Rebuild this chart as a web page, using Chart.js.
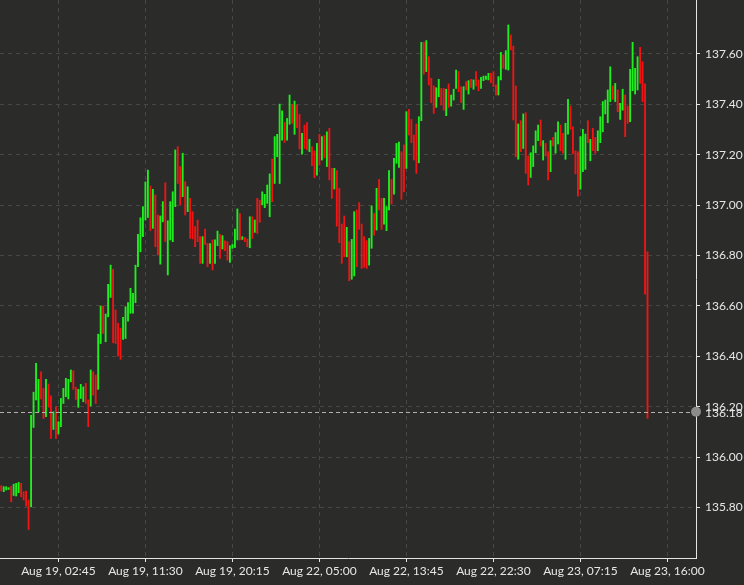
<!DOCTYPE html>
<html>
<head>
<meta charset="utf-8">
<script src="https://cdn.jsdelivr.net/npm/chart.js@4.4.1/dist/chart.umd.min.js"></script>
<style>
  html, body { margin: 0; padding: 0; background: #2b2c2a; }
  #wrap { width: 744px; height: 585px; }
</style>
</head>
<body>
<div id="wrap"><canvas id="chart"></canvas></div>
<script>
// 15-minute candles (high / low / direction)
const highs = [
  135.887,135.883,135.883,135.879,135.885,135.893,135.896,135.900,135.896,135.863,
  135.865,135.830,136.166,136.258,136.372,136.309,136.339,136.273,136.309,136.290,
  136.243,136.180,136.200,136.141,136.233,136.273,136.313,136.309,136.346,136.343,
  136.277,136.269,136.289,136.279,136.293,136.227,136.346,136.339,136.326,136.488,
  136.600,136.600,136.568,136.686,136.762,136.745,136.584,136.531,136.511,136.555,
  136.597,136.613,136.670,136.650,136.762,136.884,136.950,136.994,137.092,137.139,
  137.076,137.063,137.040,136.961,136.957,137.014,137.089,136.938,137.014,137.053,
  137.219,137.232,137.153,137.206,137.093,137.073,137.027,136.974,136.915,136.941,
  136.875,136.875,136.905,136.848,136.848,136.862,136.862,136.897,136.884,136.879,
  136.858,136.855,136.839,136.844,136.905,136.985,136.967,136.875,136.872,136.866,
  136.954,136.954,136.941,137.027,137.020,137.053,137.043,137.080,137.124,137.183,
  137.272,137.281,137.401,137.374,137.328,137.344,137.437,137.400,137.413,137.397,
  137.360,137.285,137.318,137.328,137.261,137.232,137.215,137.245,137.281,137.272,
  137.276,137.291,137.305,137.146,137.146,137.137,137.067,136.925,136.957,136.912,
  136.855,136.864,136.974,136.981,137.010,136.925,136.875,136.859,136.868,136.997,
  136.967,137.067,137.102,137.027,137.027,136.994,137.137,137.102,137.186,137.245,
  137.250,137.212,137.239,137.371,137.380,137.340,137.278,137.322,137.351,137.646,
  137.646,137.653,137.589,137.503,137.473,137.466,137.499,137.463,137.463,137.460,
  137.481,137.437,137.460,137.536,137.530,137.470,137.470,137.490,137.494,137.499,
  137.497,137.530,137.497,137.507,137.512,137.512,137.523,137.523,137.530,137.477,
  137.510,137.606,137.596,137.613,137.715,137.675,137.631,137.473,137.322,137.335,
  137.362,137.367,137.195,137.208,137.235,137.295,137.318,137.338,137.256,137.245,
  137.212,137.256,137.269,137.288,137.331,137.318,137.285,137.325,137.420,137.393,
  137.311,137.216,137.212,137.272,137.301,137.282,137.335,137.261,137.305,137.269,
  137.295,137.351,137.411,137.417,137.457,137.549,137.473,137.483,137.457,137.404,
  137.460,137.437,137.393,137.539,137.646,137.543,137.589,137.626,137.569,137.481,
  136.815
];
const lows = [
  135.866,135.863,135.870,135.872,135.823,135.848,135.846,135.859,135.843,135.830,
  135.806,135.713,135.803,136.118,136.227,136.180,136.231,136.154,136.161,136.198,
  136.074,136.110,136.074,136.092,136.121,136.213,136.240,136.231,136.299,136.269,
  136.229,136.198,136.233,136.220,136.213,136.121,136.203,136.246,136.213,136.269,
  136.451,136.491,136.458,136.557,136.634,136.454,136.451,136.401,136.388,136.467,
  136.471,136.540,136.571,136.571,136.613,136.756,136.815,136.875,136.941,136.951,
  136.899,136.908,136.835,136.802,136.766,136.934,136.855,136.723,136.862,136.855,
  136.994,137.086,137.001,137.034,136.961,136.974,136.868,136.866,136.835,136.855,
  136.769,136.769,136.844,136.756,136.769,136.743,136.769,136.839,136.789,136.826,
  136.819,136.782,136.773,136.829,136.832,136.862,136.862,136.864,136.855,136.835,
  136.831,136.868,136.892,136.888,136.932,137.001,136.990,137.007,136.954,137.014,
  137.086,137.192,137.086,137.258,137.249,137.258,137.321,137.325,137.281,137.307,
  137.223,137.202,137.225,137.219,137.212,137.157,137.109,137.119,137.159,137.179,
  137.188,137.153,137.100,137.027,137.064,136.917,136.851,136.769,136.795,136.795,
  136.700,136.706,136.719,136.756,136.904,136.749,136.753,136.749,136.762,136.829,
  136.881,136.901,136.981,136.904,136.925,136.899,136.981,137.004,137.044,137.166,
  137.150,137.023,137.053,137.146,137.278,137.248,137.179,137.126,137.168,137.335,
  137.520,137.530,137.477,137.407,137.364,137.388,137.430,137.397,137.377,137.355,
  137.388,137.393,137.417,137.463,137.450,137.407,137.380,137.457,137.441,137.467,
  137.460,137.473,137.454,137.463,137.494,137.499,137.497,137.486,137.470,137.437,
  137.437,137.497,137.543,137.539,137.536,137.616,137.338,137.192,137.182,137.212,
  137.225,137.126,137.080,137.110,137.153,137.208,137.256,137.235,137.179,137.195,
  137.100,137.133,137.235,137.206,137.243,137.216,137.206,137.182,137.282,137.301,
  137.203,137.124,137.036,137.063,137.133,137.142,137.248,137.176,137.216,137.206,
  137.216,137.248,137.291,137.362,137.327,137.411,137.420,137.411,137.371,137.340,
  137.377,137.272,137.325,137.331,137.454,137.441,137.457,137.483,137.411,136.647,
  136.154
];
// G = up candle, R = down candle
const dirs = [
  'RGGGRGGGRR','RRGGGGRRGR','RGRGGGGGGR','RGGGRRGRRG','GRGGGRRRRG',
  'GGGGGGGGGG','RGRRGGRGGG','GRRGRGRRRR','RGRRGRGGRG','RRGGGGRGRR',
  'GRGRRGGGGR','GGGGRGGRGR','RGRRGRRGRG','RGRRGRRRRG','RGGRRRRRGG',
  'RGRRGGGRGG','GRRGRRRRGG','RGRRRGGRRG','RGGGRRGRGR','GRRGGGGRRR',
  'GGRGGRRRGR','GRRGGGGRGR','RGRGGRRGGR','RRRGGGRGRR','GGGGGGRGRG',
  'GRRGGGGRRRR'
].join('').split('');

const lastPrice = 136.18;
const priceTicks = [135.8, 136.0, 136.2, 136.4, 136.6, 136.8, 137.0, 137.2, 137.4, 137.6];
const timeTickIdx = [23, 58, 93, 128, 163, 198, 233, 268];
const timeLabels = ['Aug 19, 02:45', 'Aug 19, 11:30', 'Aug 19, 20:15', 'Aug 22, 05:00',
                    'Aug 22, 13:45', 'Aug 22, 22:30', 'Aug 23, 07:15', 'Aug 23, 16:00'];

const UP = 'rgb(30,240,30)';
const DOWN = 'rgb(240,20,20)';
const FONT = { family: "'Liberation Sans Narrow', 'Lato', sans-serif", size: 12 };

const candles = highs.map((h, i) => ({ x: i, y: [lows[i], h] }));

// dashed last-price line, dot and label
const lastPricePlugin = {
  id: 'lastPrice',
  afterDatasetsDraw(chart) {
    const { ctx, chartArea, scales } = chart;
    const y = Math.round(scales.y.getPixelForValue(lastPrice)) + 0.5;
    ctx.save();
    ctx.strokeStyle = '#b0b0b0';
    ctx.lineWidth = 1;
    ctx.setLineDash([4, 3]);
    ctx.beginPath();
    ctx.moveTo(chartArea.left, y);
    ctx.lineTo(chartArea.right, y);
    ctx.stroke();
    ctx.restore();
  },
  afterDraw(chart) {
    const { ctx, chartArea, scales } = chart;
    const y = scales.y.getPixelForValue(lastPrice);
    ctx.save();
    ctx.fillStyle = '#8c8c8c';
    ctx.beginPath();
    ctx.arc(chartArea.right, y, 5, 0, Math.PI * 2);
    ctx.fill();
    ctx.fillStyle = '#e6e6e6';
    ctx.font = FONT.size + 'px ' + FONT.family;
    ctx.textBaseline = 'middle';
    ctx.textAlign = 'left';
    ctx.fillText(lastPrice.toFixed(2), chartArea.right + 9, y + 1);
    ctx.restore();
  }
};

new Chart(document.getElementById('chart').getContext('2d'), {
  type: 'bar',
  data: {
    datasets: [{
      data: candles,
      backgroundColor: ctx => dirs[ctx.dataIndex] === 'G' ? UP : DOWN,
      borderWidth: 0,
      barThickness: 1.2
    }]
  },
  options: {
    responsive: true,
    maintainAspectRatio: false,
    animation: false,
    layout: { padding: 0 },
    plugins: { legend: { display: false }, tooltip: { enabled: false } },
    scales: {
      x: {
        type: 'linear',
        offset: false,
        min: -0.5,
        max: 279.5,
        afterBuildTicks: s => { s.ticks = timeTickIdx.map(v => ({ value: v })); },
        afterFit: s => { s.height = 27; s.paddingLeft = 0; s.paddingRight = 0; },
        ticks: {
          autoSkip: false, maxRotation: 0, padding: 2,
          color: '#e6e6e6', font: FONT,
          callback: v => timeLabels[timeTickIdx.indexOf(v)]
        },
        grid: { offset: false, color: '#474846', tickColor: '#e6e6e6', tickLength: 4 },
        border: { display: true, color: '#e6e6e6', width: 1, dash: [4, 4] }
      },
      y: {
        position: 'right',
        min: 135.60,
        max: 137.814,
        afterBuildTicks: s => { s.ticks = priceTicks.map(v => ({ value: v })); },
        afterFit: s => { s.width = 48; s.paddingTop = 0; s.paddingBottom = 0; },
        ticks: {
          padding: 5, color: '#e6e6e6', font: FONT,
          callback: v => Number(v).toFixed(2)
        },
        grid: { color: '#474846', tickColor: '#e6e6e6', tickLength: 4 },
        border: { display: true, color: '#e6e6e6', width: 1, dash: [4, 4] }
      }
    }
  },
  plugins: [lastPricePlugin]
});
</script>
</body>
</html>
